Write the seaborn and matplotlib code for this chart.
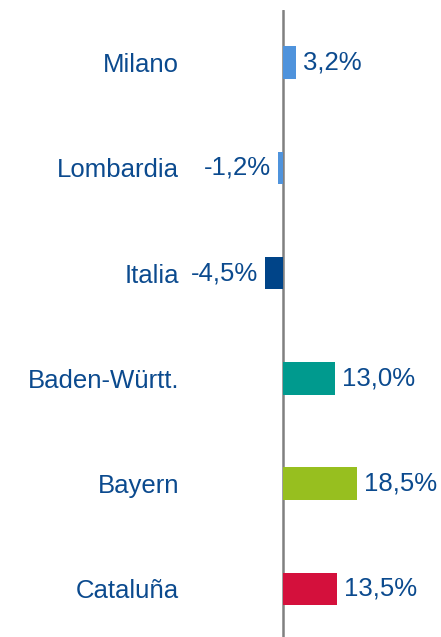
import matplotlib
matplotlib.use("Agg")
import matplotlib.pyplot as plt
import seaborn as sns
import pandas as pd

# --- Data ---
regions = ["Milano", "Lombardia", "Italia", "Baden-Württ.", "Bayern", "Cataluña"]
growth = [3.2, -1.2, -4.5, 13.0, 18.5, 13.5]
bar_colors = ["#4F93DC", "#4F93DC", "#004488", "#009A8E", "#97BF1F", "#D4103C"]
text_color = "#0B4A8E"

df = pd.DataFrame({"region": regions, "growth": growth})

sns.set_theme(style="white")
plt.rcParams["font.family"] = ["Liberation Sans", "DejaVu Sans"]

fig = plt.figure(figsize=(4.41, 6.37), dpi=100)
# axes spans from x=190px to the right edge, y from 10px to the bottom
ax = fig.add_axes([190 / 441, 0, 251 / 441, 627 / 637])

sns.barplot(data=df, x="growth", y="region", hue="region", palette=bar_colors,
            orient="h", width=0.31, legend=False, ax=ax, saturation=1, linewidth=0)

ax.set_xlim(-23.25, 39.5)
ax.set_ylim(5.456, -0.499)

ax.axvline(0, color="#808080", lw=1.8, zorder=0)

for cont in ax.containers:
    ax.bar_label(cont, labels=[f"{v.get_width():.1f}%".replace(".", ",") for v in cont],
                 padding=5, fontsize=18.5, color=text_color)

ax.set_xlabel("")
ax.set_ylabel("")
ax.set_xticks([])
ax.tick_params(axis="y", length=0, pad=8, labelsize=18.5, labelcolor=text_color)
for s in ax.spines.values():
    s.set_visible(False)

fig.savefig("out.png", dpi=100)
